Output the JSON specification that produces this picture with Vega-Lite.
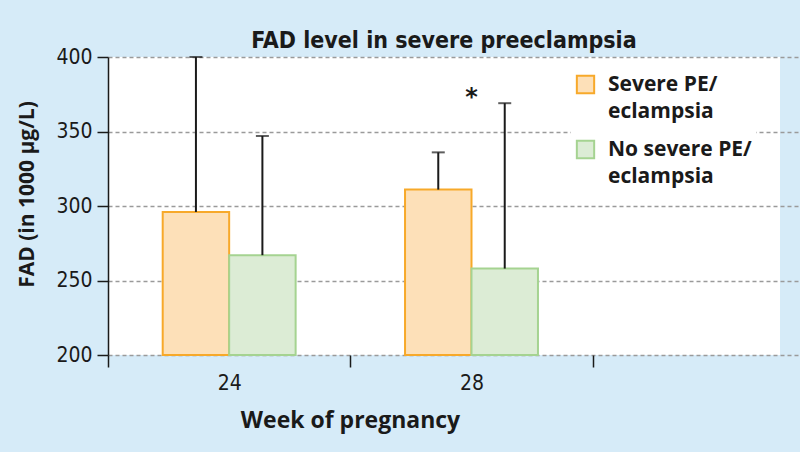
{
  "$schema": "https://vega.github.io/schema/vega-lite/v6.json",
  "width": 672,
  "height": 298,
  "autosize": "none",
  "padding": {"left": 108, "top": 57, "right": 20, "bottom": 97},
  "background": "#d6ebf8",
  "title": {
    "text": "FAD level in severe preeclampsia",
    "font": "Liberation Sans Narrow, DejaVu Sans Condensed, sans-serif",
    "fontSize": 23,
    "fontWeight": "bold",
    "color": "#1a1a1a",
    "anchor": "middle",
    "offset": -7
  },
  "config": {
    "view": {"fill": "white", "stroke": null},
    "axis": {
      "labelFont": "DejaVu Sans Condensed",
      "labelFontSize": 21,
      "labelColor": "#1a1a1a",
      "titleFont": "Open Sans",
      "titleFontWeight": "bold",
      "titleColor": "#1a1a1a",
      "domainColor": "#1a1a1a",
      "domainWidth": 1.5,
      "tickColor": "#1a1a1a",
      "tickWidth": 1.5
    }
  },
  "datasets": {
    "fad": [
      {"week": "24", "group": "Severe PE/eclampsia", "mean": 296, "upper": 400},
      {"week": "24", "group": "No severe PE/eclampsia", "mean": 267, "upper": 347},
      {"week": "28", "group": "Severe PE/eclampsia", "mean": 311, "upper": 336},
      {"week": "28", "group": "No severe PE/eclampsia", "mean": 258, "upper": 369}
    ],
    "marks": [{"week": "28", "value": 368, "label": "*"}]
  },
  "data": {"name": "fad"},
  "encoding": {
    "x": {
      "field": "week",
      "type": "nominal",
      "scale": {"domain": ["24", "28", ""], "range": [0, 727], "paddingInner": 0, "paddingOuter": 0},
      "axis": {
        "title": "Week of pregnancy",
        "titleFontSize": 23,
        "titleX": 242,
        "titleY": 72,
        "titleAlign": "center",
        "titleBaseline": "alphabetic",
        "labelAngle": 0,
        "labelPadding": 5,
        "tickSize": 12,
        "tickBand": "extent",
        "domain": false
      }
    }
  },
  "layer": [
    {
      "mark": {"type": "bar", "strokeWidth": 2},
      "encoding": {
        "xOffset": {
          "field": "group",
          "type": "nominal",
          "sort": ["Severe PE/eclampsia", "No severe PE/eclampsia"],
          "scale": {"paddingInner": 0, "paddingOuter": 0.823}
        },
        "y": {
          "field": "mean",
          "type": "quantitative",
          "scale": {"domain": [200, 400], "nice": false, "zero": false},
          "axis": {
            "title": "FAD (in 1000 µg/L)",
            "titleFontSize": 21,
            "titlePadding": 18,
            "titleY": 137,
            "values": [200, 250, 300, 350, 400],
            "tickSize": 11,
            "labelPadding": 5,
            "grid": true,
            "gridColor": "#9a9a9a",
            "gridDash": [4, 3],
            "gridWidth": 1.5
          }
        },
        "y2": {"datum": 200},
        "fill": {
          "field": "group",
          "type": "nominal",
          "scale": {"domain": ["Severe PE/eclampsia", "No severe PE/eclampsia"], "range": ["#fde0b8", "#dcecd5"]},
          "legend": {
            "title": null,
            "orient": "none",
            "legendX": 463,
            "legendY": 13,
            "symbolType": "square",
            "symbolSize": 300,
            "symbolStrokeWidth": 2,
            "labelFont": "Open Sans",
            "labelFontWeight": "bold",
            "labelFontSize": 21,
            "labelColor": "#1a1a1a",
            "labelLimit": 0,
            "labelOffset": 12,
            "labelExpr": "datum.label == 'Severe PE/eclampsia' ? ['Severe PE/', 'eclampsia'] : ['No severe PE/', 'eclampsia']",
            "rowPadding": 14,
            "fillColor": "white",
            "padding": 4,
            "encode": {"labels": {"update": {"lineHeight": {"value": 27}}}}
          }
        },
        "stroke": {
          "field": "group",
          "type": "nominal",
          "scale": {"domain": ["Severe PE/eclampsia", "No severe PE/eclampsia"], "range": ["#f7a92a", "#a5d391"]}
        }
      }
    },
    {
      "mark": {"type": "rule", "color": "#1a1a1a", "strokeWidth": 2},
      "encoding": {
        "xOffset": {
          "field": "group",
          "type": "nominal",
          "sort": ["Severe PE/eclampsia", "No severe PE/eclampsia"],
          "scale": {"paddingInner": 0, "paddingOuter": 0.823}
        },
        "y": {"field": "mean", "type": "quantitative"},
        "y2": {"field": "upper"}
      }
    },
    {
      "mark": {"type": "tick", "color": "#1a1a1a", "thickness": 2, "size": 13},
      "encoding": {
        "xOffset": {
          "field": "group",
          "type": "nominal",
          "sort": ["Severe PE/eclampsia", "No severe PE/eclampsia"],
          "scale": {"paddingInner": 0, "paddingOuter": 0.823}
        },
        "y": {"field": "upper", "type": "quantitative"}
      }
    },
    {
      "data": {"name": "marks"},
      "mark": {"type": "text", "font": "DejaVu Sans", "fontSize": 24, "fontWeight": "bold", "color": "#1a1a1a", "baseline": "alphabetic"},
      "encoding": {
        "y": {"field": "value", "type": "quantitative"},
        "text": {"field": "label"}
      }
    },
    {
      "mark": {"type": "rule", "color": "#1a1a1a", "strokeWidth": 1.5},
      "encoding": {"y": {"datum": 200, "type": "quantitative"}}
    }
  ]
}
